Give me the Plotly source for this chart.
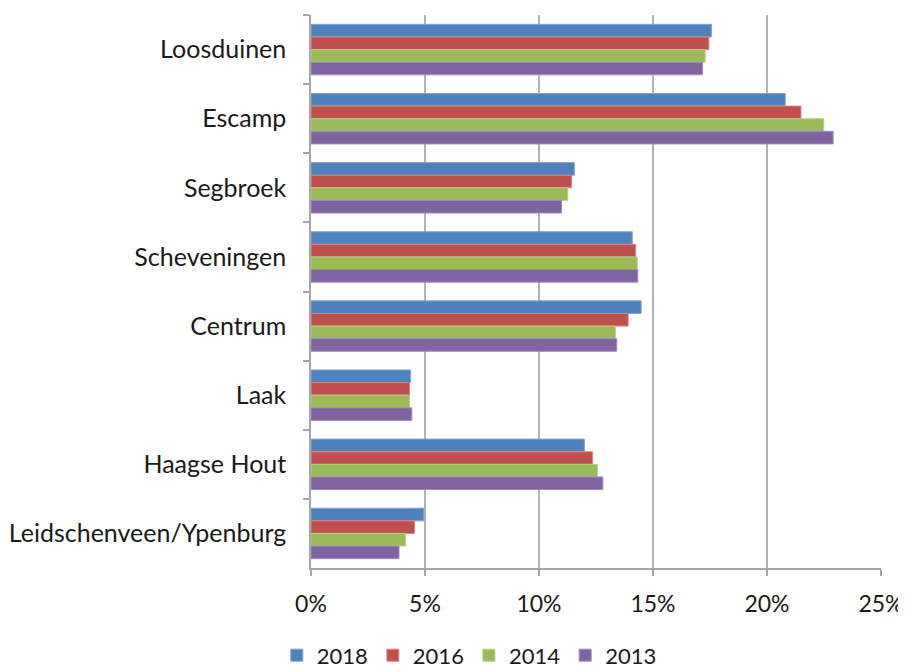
import plotly.graph_objects as go

categories = ["Loosduinen", "Escamp", "Segbroek", "Scheveningen", "Centrum",
              "Laak", "Haagse Hout", "Leidschenveen/Ypenburg"]
years = ["2018", "2016", "2014", "2013"]
v2018 = [17.56, 20.80, 11.55, 14.09, 14.48, 4.37, 11.99, 4.95]
v2016 = [17.45, 21.49, 11.43, 14.24, 13.91, 4.32, 12.35, 4.54]
v2014 = [17.29, 22.49, 11.26, 14.31, 13.35, 4.32, 12.57, 4.15]
v2013 = [17.17, 22.90, 10.99, 14.33, 13.41, 4.42, 12.80, 3.86]
series = [v2018, v2016, v2014, v2013]
colors = ["#4F81BD", "#C0504D", "#9BBB59", "#8064A2"]
borders = ["#7FA3D3", "#D88583", "#B8D38A", "#A08ABE"]

FONT = "Lato"

fig = go.Figure()
for name, vals, c, b in zip(years, series, colors, borders):
    fig.add_trace(go.Bar(
        y=categories, x=[v / 100 for v in vals], name=name, orientation="h",
        marker=dict(color=c, line=dict(color=b, width=1)),
    ))

fig.update_layout(
    width=898, height=663,
    margin=dict(l=303, r=25, t=7, b=103, autoexpand=False),
    paper_bgcolor="white", plot_bgcolor="white",
    barmode="group", bargap=0.27, bargroupgap=0,
    font=dict(family=FONT, size=25, color="#1a1a1a"),
    showlegend=True,
    legend=dict(orientation="h", x=-0.06, xanchor="left", y=-0.158, yanchor="middle",
                font=dict(family=FONT, size=22), itemwidth=30, traceorder="normal",
                itemclick=False),
    xaxis=dict(range=[0, 0.25], dtick=0.05, tickformat=".0%", automargin=False,
               showgrid=True, gridcolor="#B3B3B3", gridwidth=1.5,
               showline=True, linecolor="#A6A6A6", linewidth=1.5,
               ticks="outside", ticklen=6, tickcolor="#A6A6A6", tickwidth=1.5,
               ticklabelstandoff=9, zeroline=False, tickfont=dict(size=23)),
    yaxis=dict(autorange="reversed", automargin=False, showline=True,
               linecolor="#A6A6A6", linewidth=1.5,
               ticks="outside", ticklen=6, tickcolor="#A6A6A6", tickwidth=1.5,
               tickson="boundaries", ticklabelstandoff=18, showgrid=False),
)

fig.write_html("out.html")
